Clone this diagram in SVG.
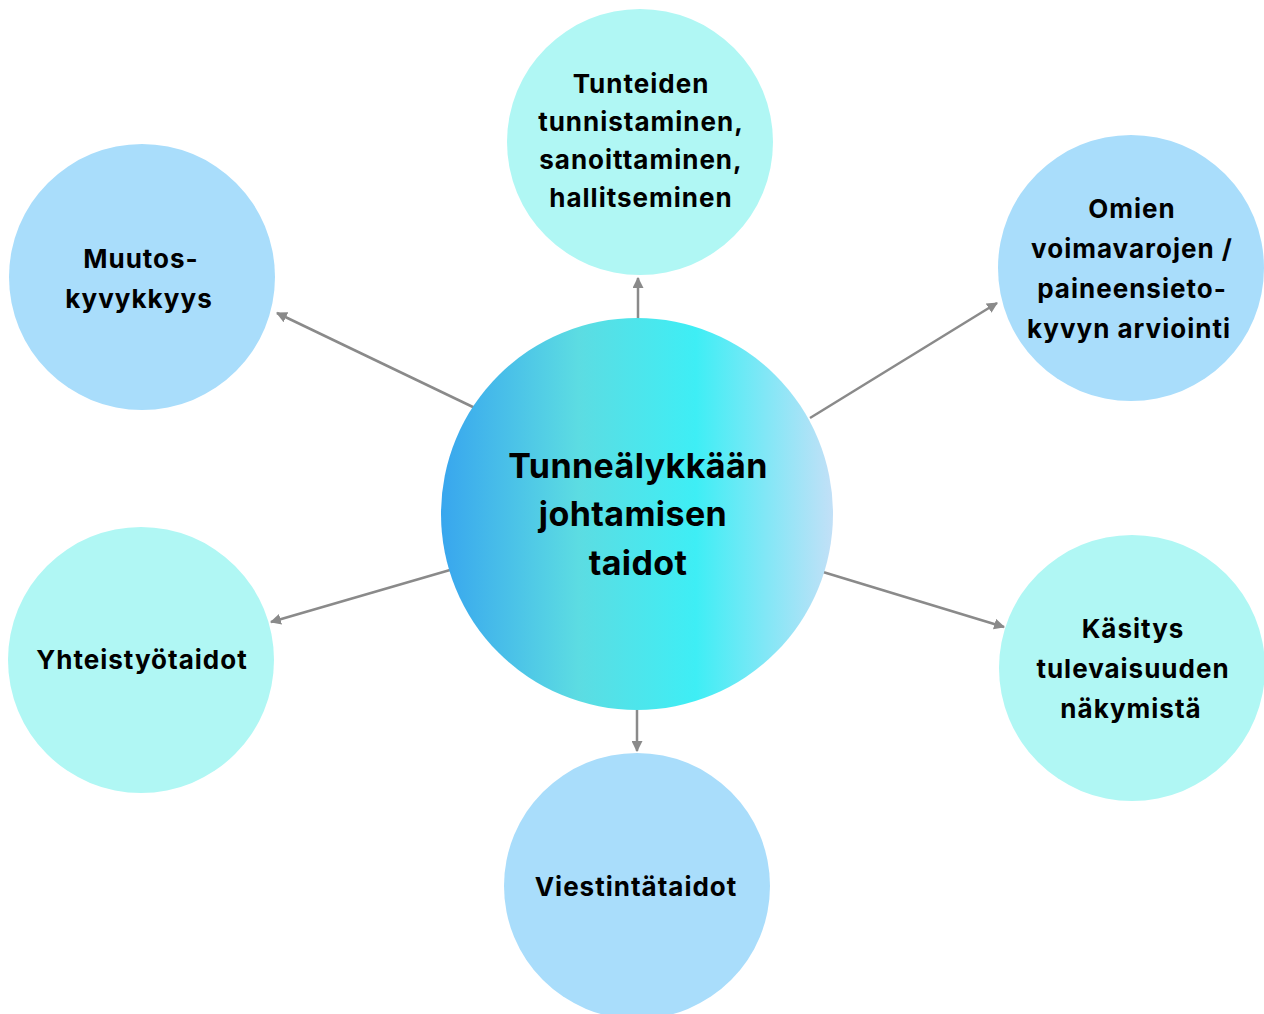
<svg xmlns="http://www.w3.org/2000/svg" width="1264" height="1014" viewBox="0 0 1264 1014">
<style>
.t{font-family:Inter,"Noto Sans",sans-serif;font-weight:700;font-size:26px;letter-spacing:1px;fill:#000;text-anchor:middle}
.c{font-size:34px;letter-spacing:0.4px}
.blue{fill:#A9DDFB}
.cyan{fill:#B0F7F4}
.conn line{stroke:#8a8a8a;stroke-width:2.5;marker-end:url(#ah)}
</style>
<defs>
<marker id="ah" viewBox="0 0 10 10" refX="9" refY="5" markerWidth="4.4" markerHeight="4.4" orient="auto" markerUnits="strokeWidth">
<path d="M0,0 L10,5 L0,10 z" fill="#8a8a8a"/>
</marker>
<linearGradient id="g" x1="0" y1="0" x2="1" y2="0">
<stop offset="0" stop-color="#38A6EE"/>
<stop offset="0.35" stop-color="#5CDCE2"/>
<stop offset="0.65" stop-color="#3EEEF5"/>
<stop offset="1" stop-color="#C2E0F7"/>
</linearGradient>
</defs>
<rect width="1264" height="1014" fill="#fff"/>
<g class="conn">
<line x1="638" y1="346" x2="638" y2="278"/>
<line x1="475" y1="408" x2="277" y2="313"/>
<line x1="810" y1="418" x2="997" y2="303"/>
<line x1="450" y1="570" x2="271" y2="622"/>
<line x1="823" y1="572" x2="1004" y2="627"/>
<line x1="637" y1="710" x2="637" y2="751"/>
</g>
<g id="center">
<circle cx="637" cy="514" r="196" fill="url(#g)"/>
<text class="t c" x="638" y="478">Tunneälykkään</text>
<text class="t c" x="633" y="526">johtamisen</text>
<text class="t c" x="638" y="575">taidot</text>
</g>
<g id="n-tunteiden">
<circle class="cyan" cx="640" cy="142" r="133"/>
<text class="t" x="641" y="93">Tunteiden</text>
<text class="t" x="641" y="131">tunnistaminen,</text>
<text class="t" x="641" y="169">sanoittaminen,</text>
<text class="t" x="641" y="207">hallitseminen</text>
</g>
<g id="n-muutos">
<circle class="blue" cx="142" cy="277" r="133"/>
<text class="t" x="141" y="268">Muutos-</text>
<text class="t" x="139" y="308">kyvykkyys</text>
</g>
<g id="n-omien">
<circle class="blue" cx="1131" cy="268" r="133"/>
<text class="t" x="1132" y="218">Omien</text>
<text class="t" x="1132" y="258">voimavarojen /</text>
<text class="t" x="1132" y="298">paineensieto-</text>
<text class="t" x="1129" y="338">kyvyn arviointi</text>
</g>
<g id="n-yhteistyo">
<circle class="cyan" cx="141" cy="660" r="133"/>
<text class="t" x="142" y="669">Yhteistyötaidot</text>
</g>
<g id="n-kasitys">
<circle class="cyan" cx="1132" cy="668" r="133"/>
<text class="t" x="1133" y="638">Käsitys</text>
<text class="t" x="1133" y="678">tulevaisuuden</text>
<text class="t" x="1131" y="718">näkymistä</text>
</g>
<g id="n-viestinta">
<circle class="blue" cx="637" cy="886" r="133"/>
<text class="t" x="636" y="896">Viestintätaidot</text>
</g>
</svg>
